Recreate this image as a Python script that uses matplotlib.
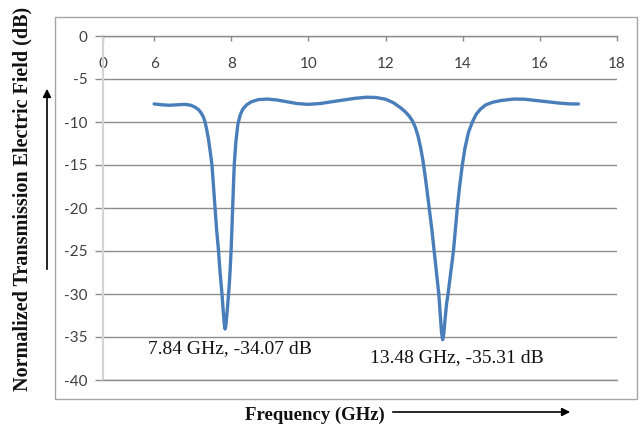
import matplotlib
matplotlib.use("Agg")
import matplotlib.pyplot as plt
from matplotlib.patches import Rectangle, FancyArrowPatch

# ---- data ----
freq = [6.00, 6.20, 6.40, 6.60, 6.80, 6.95, 7.05, 7.15, 7.22, 7.28, 7.32, 7.36,
        7.41, 7.45, 7.50, 7.54, 7.58, 7.62, 7.67, 7.71, 7.76, 7.79, 7.82, 7.84,
        7.86, 7.89, 7.93, 7.95, 7.97, 8.00, 8.02, 8.04, 8.06, 8.08, 8.12, 8.17,
        8.23, 8.30, 8.40, 8.52, 8.70, 8.93, 9.20, 9.45, 9.70, 10.00, 10.31,
        10.60, 10.90, 11.20, 11.50, 11.75, 12.00, 12.20, 12.39, 12.52, 12.62,
        12.70, 12.77, 12.84, 12.91, 12.97, 13.03, 13.09, 13.15, 13.20, 13.26,
        13.32, 13.38, 13.42, 13.45, 13.48, 13.51, 13.55, 13.58, 13.62, 13.69,
        13.76, 13.81, 13.86, 13.92, 13.99, 14.06, 14.15, 14.25, 14.35, 14.46,
        14.60, 14.78, 15.00, 15.33, 15.60, 15.90, 16.20, 16.50, 16.80, 17.00]
field = [-7.9, -8.0, -8.05, -8.0, -7.95, -8.05, -8.25, -8.55, -8.95, -9.45, -10.0, -10.8,
         -12.0, -13.3, -15.0, -17.5, -20.0, -22.5, -25.0, -27.5, -30.0, -31.9, -33.5, -34.07,
         -33.7, -32.2, -30.0, -28.8, -27.3, -24.5, -22.0, -19.5, -17.0, -14.8, -12.3, -10.3,
         -9.2, -8.5, -8.0, -7.65, -7.4, -7.33, -7.45, -7.65, -7.85, -7.95, -7.85,
         -7.65, -7.45, -7.25, -7.12, -7.15, -7.35, -7.75, -8.35, -8.85, -9.35,
         -9.9, -10.6, -11.6, -13.0, -14.5, -16.4, -18.5, -20.7, -22.5, -25.0,
         -27.5, -30.0, -32.5, -34.4, -35.31, -34.6, -32.6, -31.2, -30.0, -27.5,
         -25.0, -22.5, -20.0, -17.5, -15.0, -13.0, -11.2, -10.0, -9.1, -8.5,
         -8.0, -7.7, -7.5, -7.33, -7.35, -7.5, -7.65, -7.8, -7.9, -7.9]

x_tick_values = [6, 8, 10, 12, 14, 16, 18]
x_first_label = "0"
y_tick_values = [0, -5, -10, -15, -20, -25, -30, -35, -40]

annot_texts = ["7.84 GHz, -34.07 dB", "13.48 GHz, -35.31 dB"]
annot_x = [7.97, 13.84]
annot_y = [-36.3, -37.45]

x_label = "Frequency (GHz)"
y_label = "Normalized Transmission Electric Field (dB)"

# ---- figure ----
W, H = 640, 425
fig = plt.figure(figsize=(W / 100, H / 100), dpi=100)
fig.patch.set_facecolor("white")

def fx(px):
    return px / W

def fy(py):
    return 1 - py / H

ax = fig.add_axes([fx(103), fy(380), fx(617) - fx(103), fy(36) - fy(380)])
X_LEFT = 4.675
ax.set_xlim(X_LEFT, 18)
ax.set_ylim(-40, 0)

ax.plot(freq, field, color="#4A7EBB", lw=2.4, solid_joinstyle="round",
        solid_capstyle="round", zorder=3)

grid_c = "#8C8C8C"
ax.set_yticks(y_tick_values)
ax.set_yticklabels([str(v) for v in y_tick_values])
ax.yaxis.grid(True, color=grid_c, lw=1.0)
ax.set_axisbelow(True)
ax.tick_params(axis="y", direction="out", length=5.8, width=1.0, color=grid_c,
               pad=5.5, labelsize=11, labelcolor="#404040")

ax.set_xticks([X_LEFT] + x_tick_values)
ax.set_xticklabels([x_first_label] + [str(v) for v in x_tick_values])
ax.tick_params(axis="x", top=True, bottom=False, labeltop=True, labelbottom=False,
               direction="in", length=3.6, width=1.0, color=grid_c,
               pad=-25, labelsize=11, labelcolor="#404040")

for lab in ax.get_xticklabels() + ax.get_yticklabels():
    lab.set_family("Lato")

ax.spines["top"].set_color(grid_c)
ax.spines["top"].set_linewidth(1.0)
ax.spines["bottom"].set_color(grid_c)
ax.spines["bottom"].set_linewidth(1.0)
ax.spines["left"].set_color("#D4D4D4")
ax.spines["left"].set_linewidth(1.6)
ax.spines["right"].set_visible(False)

for t, xx, yy in zip(annot_texts, annot_x, annot_y):
    ax.text(xx, yy, t, ha="center", va="center", family="Liberation Serif",
            fontsize=14, color="#111111")

# chart-area border
fig.add_artist(Rectangle((fx(55), fy(399)), fx(637) - fx(55), fy(17) - fy(399),
                         transform=fig.transFigure, fill=False, ec="#A6A6A6", lw=1.0))

# axis titles
fig.text(fx(22), fy(199), y_label, rotation=90, ha="center", va="center",
         family="Liberation Serif", weight="bold", fontsize=14.5, color="#111111")
fig.text(fx(315), fy(415), x_label, ha="center", va="center",
         family="Liberation Serif", weight="bold", fontsize=13.5, color="#111111")

# arrows
fig.add_artist(FancyArrowPatch((fx(47), fy(272)), (fx(47), fy(86)),
                               transform=fig.transFigure, arrowstyle="-|>",
                               mutation_scale=12, lw=1.2, color="black"))
fig.add_artist(FancyArrowPatch((fx(390), fy(412)), (fx(573), fy(412)),
                               transform=fig.transFigure, arrowstyle="-|>",
                               mutation_scale=12, lw=1.2, color="black"))

fig.savefig("out.png", dpi=100)
